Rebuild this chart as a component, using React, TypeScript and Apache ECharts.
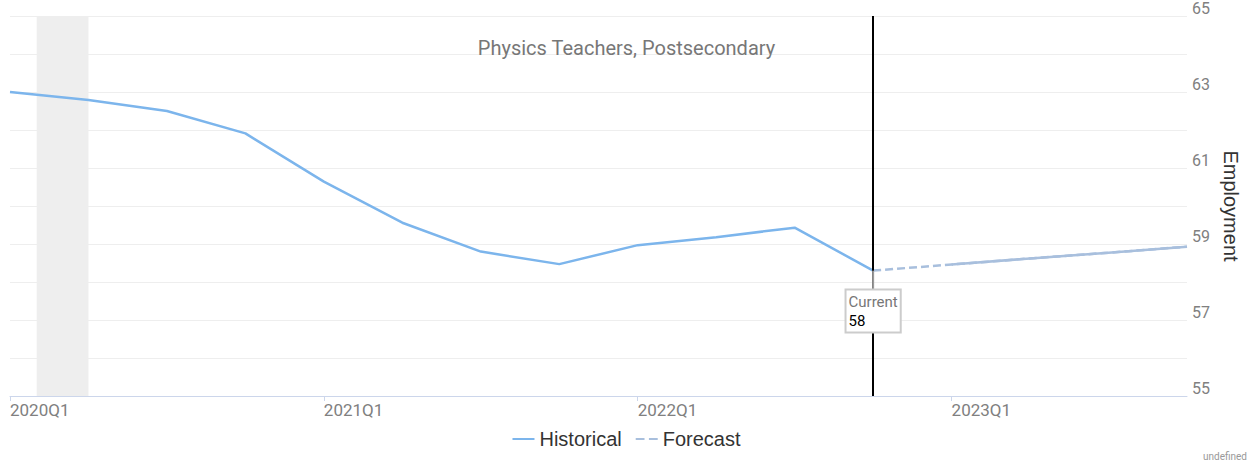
import React, { useEffect, useRef } from "react";
import * as echarts from "echarts";

const quarters = [
  "2020Q1", "2020Q2", "2020Q3", "2020Q4",
  "2021Q1", "2021Q2", "2021Q3", "2021Q4",
  "2022Q1", "2022Q2", "2022Q3", "2022Q4",
  "2023Q1", "2023Q2", "2023Q3", "2023Q4",
];
const historical = [63.0, 62.79, 62.5, 61.91, 60.64, 59.56, 58.8, 58.47, 58.97, 59.18, 59.43, 58.3];
const forecast = [58.3, 58.46, 58.62, 58.77, 58.93];
const forecastStart = 11;
const currentIndex = 11;
const currentLabel = "58";
const recession = [0.34, 1.0];
const yTicks = [55, 57, 59, 61, 63, 65];

export default function App() {
  const ref = useRef<HTMLDivElement>(null);
  useEffect(() => {
    if (!ref.current) return;
    const chart = echarts.init(ref.current, undefined, { renderer: "svg" });
    const font = "Roboto";
    const sans = "Liberation Sans";
    const histColor = "#7cb5ec";
    const fcColor = "#a8bfdd";
    const histData = historical.map((v, i) => [i, v]);
    const fcData = forecast.map((v, i) => [forecastStart + i, v]);
    const fcSolid = fcData.slice(1);
    chart.setOption({
      animation: false,
      textStyle: { fontFamily: font },
      title: {
        text: "Physics Teachers, Postsecondary",
        left: "center",
        top: 38,
        padding: 0,
        textStyle: { fontFamily: font, fontSize: 20, fontWeight: "normal", color: "#777777" },
      },
      legend: {
        bottom: 11,
        left: "center",
        itemWidth: 22,
        itemHeight: 12,
        itemGap: 14,
        textStyle: { fontFamily: sans, fontSize: 20, color: "#333333" },
        data: [
          { name: "Historical", icon: "path://M0,5L22,5L22,7L0,7Z", itemStyle: { color: histColor } },
          { name: "Forecast", icon: "path://M0,5L8,5L8,7L0,7ZM12,5L20,5L20,7L12,7Z", itemStyle: { color: fcColor } },
        ],
      },
      grid: { left: 10, right: 66, top: 16, bottom: 69, containLabel: false },
      xAxis: {
        type: "value",
        min: 0,
        max: quarters.length - 1,
        interval: 4,
        axisLine: { show: true, lineStyle: { color: "#ccd6eb", width: 1 } },
        axisTick: { show: true, length: 5, lineStyle: { color: "#ccd6eb" } },
        splitLine: { show: false },
        axisLabel: {
          formatter: (v: number) => quarters[v] ?? "",
          align: "left",
          margin: 5,
          fontFamily: font,
          fontSize: 17,
          color: "#808080",
          showMaxLabel: false,
        },
      },
      yAxis: {
        type: "value",
        position: "right",
        min: yTicks[0],
        max: yTicks[yTicks.length - 1],
        interval: 1,
        name: "Employment",
        nameLocation: "middle",
        nameRotate: -90,
        nameGap: 28,
        nameTextStyle: { fontFamily: sans, fontSize: 20, color: "#333333" },
        axisLine: { show: false },
        axisTick: { show: false },
        splitLine: { show: true, lineStyle: { color: "#eeeeee", width: 1 } },
        axisLabel: {
          formatter: (v: number) => (yTicks.includes(v) ? String(v) : ""),
          margin: 5,
          verticalAlign: "bottom",
          fontFamily: font,
          fontSize: 16,
          color: "#808080",
        },
      },
      series: [
        {
          name: "Historical",
          type: "line",
          data: histData,
          symbol: "none",
          lineStyle: { color: histColor, width: 2.5 },
          itemStyle: { color: histColor },
          z: 3,
          markArea: {
            silent: true,
            itemStyle: { color: "#eeeeee" },
            data: [[{ xAxis: recession[0] }, { xAxis: recession[1] }]],
          },
          markLine: {
            silent: true,
            symbol: "none",
            label: { show: false },
            lineStyle: { color: "#000000", width: 2, type: "solid" },
            data: [{ xAxis: currentIndex }],
          },
        },
        {
          name: "Forecast",
          type: "line",
          data: fcData,
          symbol: "none",
          lineStyle: { color: fcColor, width: 2.5, type: [8, 4] },
          itemStyle: { color: fcColor },
          z: 4,
          markPoint: {
            silent: true,
            symbol: "rect",
            symbolSize: [2, 20],
            symbolOffset: [0, 10],
            itemStyle: { color: "#999999" },
            label: {
              show: true,
              position: "bottom",
              distance: 0,
              formatter: "{a|Current}\n{b|" + currentLabel + "}",
              backgroundColor: "#ffffff",
              borderColor: "#cccccc",
              borderWidth: 2,
              padding: [2, 2, 1, 2],
              rich: {
                a: { fontFamily: font, fontSize: 15, color: "#777777", lineHeight: 19, align: "left" },
                b: { fontFamily: font, fontSize: 15, color: "#000000", lineHeight: 19, align: "left" },
              },
            },
            data: [{ coord: [currentIndex, historical[currentIndex]] }],
          },
        },
        {
          name: "Forecast",
          type: "line",
          data: fcSolid,
          symbol: "none",
          lineStyle: { color: fcColor, width: 2.5 },
          itemStyle: { color: fcColor },
          z: 4,
        },
      ],
      graphic: [
        {
          type: "text",
          right: 6,
          bottom: 4,
          style: { text: "undefined", fontFamily: font, fontSize: 10, fill: "#999999" },
        },
      ],
    });
    return () => chart.dispose();
  }, []);
  return (
    <div
      ref={ref}
      style={{ position: "absolute", left: 0, top: 0, width: 1253, height: 465 }}
    />
  );
}
